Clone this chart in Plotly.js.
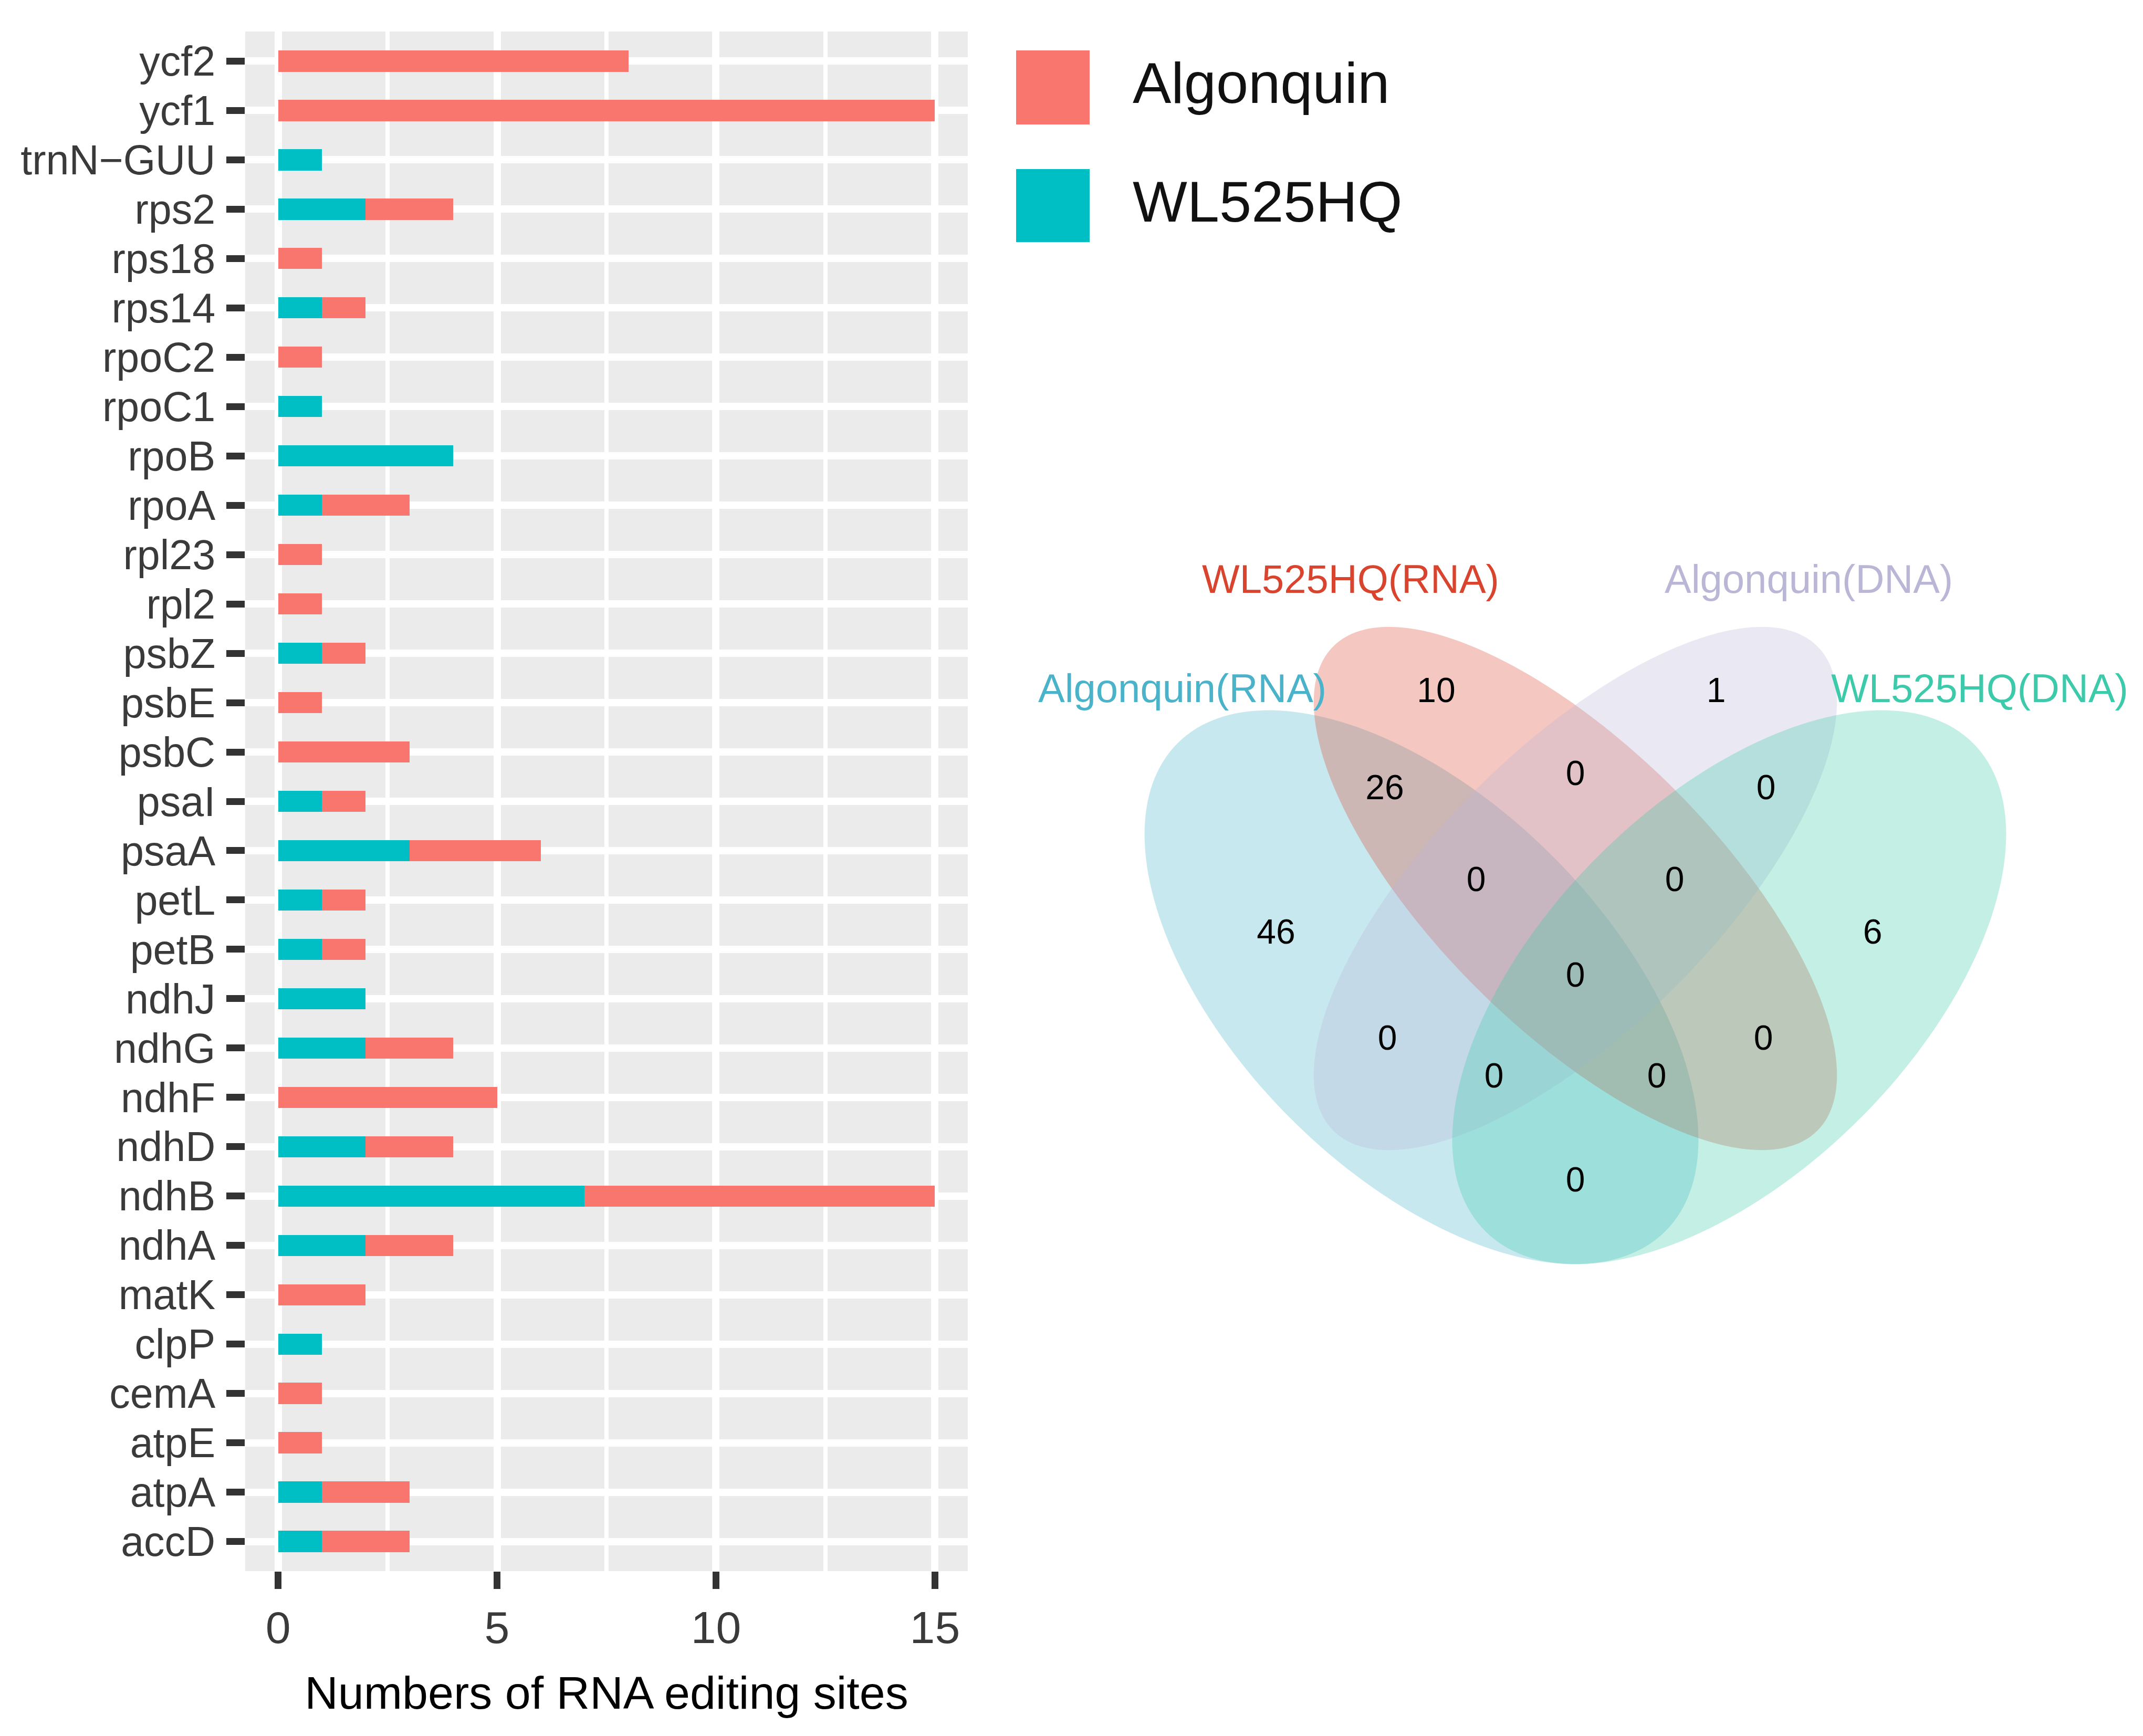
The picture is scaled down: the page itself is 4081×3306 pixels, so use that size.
<!DOCTYPE html>
<html><head><meta charset="utf-8">
<script src="https://cdn.plot.ly/plotly-3.0.1.min.js"></script>
<style>html,body{margin:0;padding:0;background:#fff;} #chart{width:4081px;height:3306px;}</style>
</head><body><div id="chart"></div>
<script>
// ---------- data ----------
const genes = ["accD","atpA","atpE","cemA","clpP","matK","ndhA","ndhB","ndhD","ndhF","ndhG","ndhJ","petB","petL","psaA","psaI","psbC","psbE","psbZ","rpl2","rpl23","rpoA","rpoB","rpoC1","rpoC2","rps14","rps18","rps2","trnN\u2212GUU","ycf1","ycf2"];
const wl525hq   = [1,1,0,0,1,0,2,7,2,0,2,2,1,1,3,1,0,0,1,0,0,1,4,1,0,1,0,2,1,0,0];
const algonquin = [2,2,1,1,0,2,2,8,2,5,2,0,1,1,3,1,3,1,1,1,1,2,0,0,1,1,1,2,0,15,8];
const seriesNames = ["Algonquin","WL525HQ"];
const xTicks = [0,5,10,15];
const xTitle = "Numbers of RNA editing sites";
const vennSets = ["Algonquin(RNA)","WL525HQ(RNA)","Algonquin(DNA)","WL525HQ(DNA)"];
// counts per Venn region (same order as vennRegionPos)
const vennCounts = [46,10,1,6,26,0,0,0,0,0,0,0,0,0,0];

// ---------- layout helpers (pixel positions, styles) ----------
const W = 4081, H = 3306;
const panel = {x0:467, x1:1843, y0:60, y1:2992};
const colAlg = "#F8766D", colWL = "#00BFC4";
const vennColors = ["#4AB3CA","#D9442F","#BAB7D6","#3CCAAA"];
const vennLabelPos = [[2251,1310],[2572,1102],[3444,1102],[3770,1310]];
const vennEllipses = [ // cx, cy, semi-major, semi-minor, direction
  [2707,1880,657,353, 1],
  [3000,1692,652,267, 1],
  [3000,1692,652,267,-1],
  [3293,1880,657,353,-1]
];
const vennRegionPos = [[2430,1780],[2735,1320],[3268,1320],[3566,1780],[2637,1505],[3000,1478],[3363,1505],
  [2811,1680],[3189,1680],[3000,1862],[2642,1982],[3358,1982],[2845,2054],[3155,2054],[3000,2252]];

function ellipsePath(cx, cy, A, B, dir){
  const n = 200, c = Math.SQRT1_2, s = dir*Math.SQRT1_2;
  let d = '';
  for (let i=0;i<=n;i++){
    const t = 2*Math.PI*i/n;
    const x = cx + A*Math.cos(t)*c - B*Math.sin(t)*s;
    const y = cy + A*Math.cos(t)*s + B*Math.sin(t)*c;
    d += (i?'L':'M') + x.toFixed(1) + ',' + y.toFixed(1);
  }
  return d + 'Z';
}
function hexA(hex, a){
  const r=parseInt(hex.slice(1,3),16), g=parseInt(hex.slice(3,5),16), b=parseInt(hex.slice(5,7),16);
  return `rgba(${r},${g},${b},${a})`;
}

const FONT = "Liberation Sans, Arial, Helvetica, sans-serif";

const traces = [
  {type:'bar', orientation:'h', name:seriesNames[1], y:genes, x:wl525hq, marker:{color:colWL, line:{width:0}},
   width:0.43, xaxis:'x', yaxis:'y', showlegend:false, hoverinfo:'skip'},
  {type:'bar', orientation:'h', name:seriesNames[0], y:genes, x:algonquin, marker:{color:colAlg, line:{width:0}},
   width:0.43, xaxis:'x', yaxis:'y', showlegend:false, hoverinfo:'skip'},
  {type:'scatter', mode:'text', x:vennRegionPos.map(p=>p[0]), y:vennRegionPos.map(p=>p[1]),
   text:vennCounts.map(String), textposition:'middle center',
   textfont:{family:FONT, size:66, color:'#000'}, xaxis:'x2', yaxis:'y2', showlegend:false, hoverinfo:'skip'}
];

const shapes = [
  {type:'rect', xref:'x domain', yref:'y domain', x0:0, x1:1, y0:0, y1:1, fillcolor:'#EBEBEB', line:{width:0}, layer:'below'}
];
vennEllipses.forEach((e,i)=>{
  shapes.push({type:'path', xref:'x2', yref:'y2', path:ellipsePath(...e), fillcolor:hexA(vennColors[i],0.3), line:{width:0}, layer:'between'});
});
// legend keys
shapes.push({type:'rect', xref:'x2', yref:'y2', x0:1935, x1:2075, y0:96, y1:237, fillcolor:colAlg, line:{width:0}});
shapes.push({type:'rect', xref:'x2', yref:'y2', x0:1935, x1:2075, y0:322, y1:461, fillcolor:colWL, line:{width:0}});

const annotations = [];
vennSets.forEach((s,i)=>{
  annotations.push({xref:'x2', yref:'y2', x:vennLabelPos[i][0], y:vennLabelPos[i][1], text:s, showarrow:false,
    xanchor:'center', yanchor:'middle', font:{family:FONT, size:76, color:vennColors[i]}});
});
annotations.push({xref:'x2', yref:'y2', x:2155, y:157, text:seriesNames[0], showarrow:false, xanchor:'left', yanchor:'middle',
  font:{family:FONT, size:110, color:'#111'}});
annotations.push({xref:'x2', yref:'y2', x:2155, y:383, text:seriesNames[1], showarrow:false, xanchor:'left', yanchor:'middle',
  font:{family:FONT, size:110, color:'#111'}});

const layout = {
  width:W, height:H, margin:{l:0,r:0,t:0,b:0,pad:0},
  paper_bgcolor:'#fff', plot_bgcolor:'rgba(0,0,0,0)',
  barmode:'stack', bargap:0,
  font:{family:FONT},
  xaxis:{domain:[panel.x0/W, panel.x1/W], anchor:'y', range:[-0.75,15.75], tickmode:'array', tickvals:xTicks,
    ticks:'outside', ticklen:33, tickwidth:13, tickcolor:'#333333',
    tickfont:{family:FONT, size:86, color:'#3a3a3a'}, showgrid:true, gridcolor:'#ffffff', gridwidth:14,
    zeroline:false, showline:false, fixedrange:true,
    minor:{tickmode:'array', tickvals:xTicks.slice(0,-1).map((v,i)=>(v+xTicks[i+1])/2), showgrid:true, gridcolor:'#ffffff', gridwidth:8, ticks:''},
    title:{text:xTitle, font:{family:FONT, size:88, color:'#000'}, standoff:46}},
  yaxis:{domain:[1-panel.y1/H, 1-panel.y0/H], anchor:'x', type:'category', categoryorder:'array', categoryarray:genes,
    tickmode:'array', tickvals:genes, ticktext:genes,
    range:[-0.6, genes.length-1+0.6], ticks:'outside', ticklen:35, tickwidth:13, tickcolor:'#333333',
    tickfont:{family:FONT, size:79, color:'#3a3a3a'}, ticklabelstandoff:5,
    showgrid:true, gridcolor:'#ffffff', gridwidth:14, zeroline:false, showline:false, fixedrange:true},
  xaxis2:{domain:[0,1], anchor:'y2', range:[0,W], visible:false, fixedrange:true},
  yaxis2:{domain:[0,1], anchor:'x2', range:[H,0], visible:false, fixedrange:true},
  shapes:shapes, annotations:annotations, showlegend:false
};

Plotly.newPlot('chart', traces, layout, {staticPlot:true, displayModeBar:false});
</script></body></html>
